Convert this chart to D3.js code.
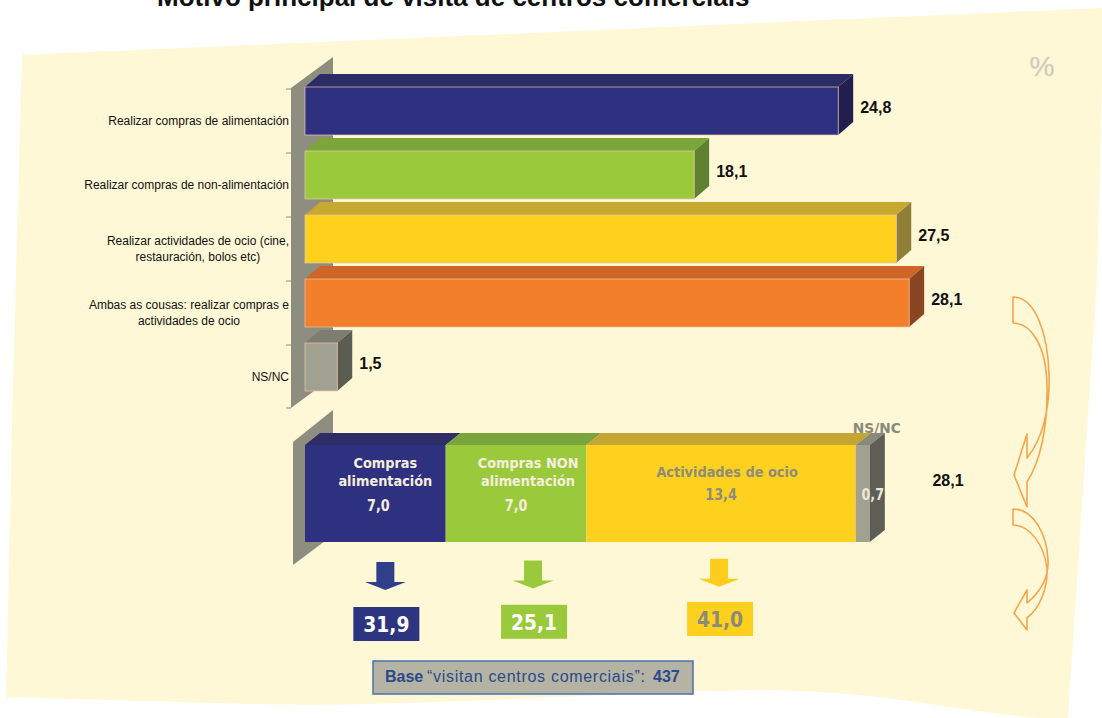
<!DOCTYPE html>
<html>
<head>
<meta charset="utf-8">
<script src="https://cdn.jsdelivr.net/npm/d3@7/dist/d3.min.js"></script>
<style>
  html, body { margin: 0; padding: 0; background: #ffffff; }
  svg { display: block; }
</style>
</head>
<body>
<svg id="chart" width="1102" height="718"></svg>
<script>
// ---- data ----
const title = "Motivo principal de visita de centros comerciais";

const categories = [
  "Realizar compras de alimentación",
  "Realizar compras de non-alimentación",
  "Realizar actividades de ocio (cine, restauración, bolos etc)",
  "Ambas as cousas: realizar compras e actividades de ocio",
  "NS/NC"
];
const categoryLines = [
  ["Realizar compras de alimentación"],
  ["Realizar compras de non-alimentación"],
  ["Realizar actividades de ocio (cine,", "restauración, bolos etc)"],
  ["Ambas as cousas: realizar compras e", "actividades de ocio"],
  ["NS/NC"]
];
const values = [24.8, 18.1, 27.5, 28.1, 1.5];

// breakdown of "Ambas as cousas"
const splitNames = [["Compras", "alimentación"], ["Compras NON", "alimentación"], ["Actividades de ocio"], []];
const splitValues = [7.0, 7.0, 13.4, 0.7];
const splitKeyLabel = "NS/NC";
const splitTotal = 28.1;

// resulting totals per motive
const totals = [31.9, 25.1, 41.0];
const baseLabel = "Base";
const baseText = "\u201cvisitan centros comerciais\u201d:";
const baseCount = 437;

// ---- colours ----
const frontColors = ["#2e3180", "#9aca3c", "#fed11f", "#f47f2a", "#a1a191"];
const topColors   = ["#2d2b63", "#7ba63a", "#c7a831", "#cf6526", "#7d7e71"];
const sideColors  = ["#221f50", "#5f8232", "#8e7e36", "#8b4522", "#5b5c52"];
const splitFront  = ["#2e3180", "#9aca3c", "#fed11f", "#a1a191"];
const splitTop    = ["#2f2d66", "#7aa43c", "#c5a635", "#8a8a7c"];
const splitText   = ["#f6eedc", "#f6eedc", "#8d8b7a", "#ece8d6"];
const totalFill   = ["#2e3580", "#9aca3c", "#fed01e"];
const totalText   = ["#ffffff", "#ffffff", "#8c8a78"];
const arrowFill   = ["#2f3f8a", "#9aca3c", "#fecc1c"];

const fmt = v => d3.format(".1f")(v).replace(".", ",");

const svg = d3.select("#chart");

// narrow bold sans text (horizontally condensed DejaVu)
function narrowText(parent, cx, cy, str, size, sx, fill) {
  return parent.append("text")
    .attr("transform", `translate(${cx},${cy}) scale(${sx},1)`)
    .attr("text-anchor", "middle").attr("dominant-baseline", "central")
    .attr("font-family", "DejaVu Sans, Verdana, sans-serif")
    .attr("font-weight", "bold").attr("font-size", size)
    .attr("fill", fill).text(str);
}

// ---- page background ----
svg.append("path")
  .attr("d", "M22,55 L1104,8 L1097,280 L1068,718 C1000,722 900,690 760,690 C600,692 420,708 250,704 L6,697 L13,380 Z")
  .attr("fill", "#fff8d6");

// title (partly above the visible area)
svg.append("text")
  .attr("x", 157).attr("y", 6)
  .attr("font-family", "Liberation Sans, Arial, sans-serif")
  .attr("font-weight", "bold").attr("font-size", 26)
  .attr("fill", "#111").text(title);

// percent sign
svg.append("text")
  .attr("x", 1042).attr("y", 66)
  .attr("text-anchor", "middle").attr("dominant-baseline", "central")
  .attr("font-family", "Liberation Sans, Arial, sans-serif")
  .attr("font-size", 28).attr("fill", "#cbc9b6")
  .attr("stroke", "#dcdac8").attr("stroke-width", 0.6)
  .text("%");

// ---- top chart: 3D horizontal bars ----
const DX = 15, DY = -13;
const x = d3.scaleLinear().domain([0, 30]).range([305, 950]);
const y = d3.scaleBand().domain(categories).range([79, 399])
  .paddingInner(0.25).paddingOuter(0.125);
const step = y.step();

// side wall
const wallTop = y(categories[0]) + 1;
const wallBot = y(categories[categories.length - 1]) + step + 1;
svg.append("polygon")
  .attr("points", [[291, wallTop], [333, wallTop - 31], [333, wallBot - 31], [291, wallBot]].join(" "))
  .attr("fill", "#8e8e80");

// tick marks on the wall's front edge
const tickYs = categories.map(c => y(c) + 2).concat([wallBot]);
svg.append("g").selectAll("line").data(tickYs).join("line")
  .attr("x1", 286).attr("x2", 291)
  .attr("y1", d => d).attr("y2", d => d)
  .attr("stroke", "#8a8a80").attr("stroke-width", 1);

const bars = svg.append("g");
categories.forEach((c, i) => {
  const x0 = x(0), x1 = x(values[i]), yt = y(c), h = y.bandwidth();
  const g = bars.append("g");
  g.append("polygon")
    .attr("points", [[x0, yt], [x0 + DX, yt + DY], [x1 + DX, yt + DY], [x1, yt]].join(" "))
    .attr("fill", topColors[i]);
  g.append("polygon")
    .attr("points", [[x1, yt], [x1 + DX, yt + DY], [x1 + DX, yt + h + DY], [x1, yt + h]].join(" "))
    .attr("fill", sideColors[i]);
  g.append("rect")
    .attr("x", x0).attr("y", yt).attr("width", x1 - x0).attr("height", h)
    .attr("fill", frontColors[i])
    .attr("stroke", "#ecc6a8").attr("stroke-width", 0.7);
  g.append("text")
    .attr("x", x1 + 22).attr("y", yt + 20)
    .attr("dominant-baseline", "central")
    .attr("font-family", "Liberation Sans, Arial, sans-serif")
    .attr("font-weight", "bold").attr("font-size", 16)
    .attr("fill", "#111").text(fmt(values[i]));
});

// category labels, right aligned against the wall, lines centred on each other
const labelRight = 289;
categoryLines.forEach((lines, i) => {
  const cy = y(categories[i]) + step / 2 + 2;
  const g = svg.append("g");
  const texts = lines.map((ln, k) => g.append("text")
    .attr("y", cy + (k - (lines.length - 1) / 2) * 16)
    .attr("dominant-baseline", "central")
    .attr("text-anchor", "end")
    .attr("font-family", "Liberation Sans, Arial, sans-serif")
    .attr("font-size", 12).attr("fill", "#111")
    .text(ln));
  const widths = texts.map(t => t.node().getComputedTextLength());
  const maxW = d3.max(widths);
  texts.forEach((t, k) => t.attr("x", labelRight - (maxW - widths[k]) / 2));
});

// ---- bottom chart: stacked breakdown of "Ambas" ----
const DX2 = 15, DY2 = -12;
const x2 = d3.scaleLinear().domain([0, 30]).range([305, 908]);
const yb = 445, hb = 97;
const ends = d3.cumsum(splitValues);
const starts = ends.map((e, i) => e - splitValues[i]);

svg.append("polygon")
  .attr("points", [[293, yb - 3], [333, yb - 35], [333, yb + hb - 7], [293, yb + hb + 23]].join(" "))
  .attr("fill", "#8e8e80");

const seg = svg.append("g");
splitValues.forEach((v, i) => {
  const a = x2(starts[i]), b = x2(ends[i]);
  seg.append("polygon")
    .attr("points", [[a, yb], [a + DX2, yb + DY2], [b + DX2, yb + DY2], [b, yb]].join(" "))
    .attr("fill", splitTop[i]);
  seg.append("rect")
    .attr("x", a).attr("y", yb).attr("width", b - a).attr("height", hb)
    .attr("fill", splitFront[i]);
});
{
  const b = x2(splitTotal);
  seg.append("polygon")
    .attr("points", [[b, yb], [b + DX2, yb + DY2], [b + DX2, yb + hb + DY2], [b, yb + hb]].join(" "))
    .attr("fill", "#5d5e55");
}

// segment texts
const nameNudge = [10, 12, 6, 0];
const valueNudge = [3, 0, 0, 10];
const nameTop = [463, 463, 472, 0];
const valueY = [506, 506, 495, 495];
splitValues.forEach((v, i) => {
  const cx = (x2(starts[i]) + x2(ends[i])) / 2;
  splitNames[i].forEach((ln, k) => {
    narrowText(seg, cx + nameNudge[i], nameTop[i] + k * 18, ln, 14.5, 0.89, splitText[i]);
  });
  narrowText(seg, cx + valueNudge[i], valueY[i], fmt(v), 15, 0.85, splitText[i]);
});
// key label above the narrow NS/NC slice
narrowText(seg, x2(splitTotal) + 7, yb - 17, splitKeyLabel, 14.5, 0.95, "#8a8a7b");
// total of the stacked bar
seg.append("text")
  .attr("x", 948).attr("y", 480)
  .attr("text-anchor", "middle").attr("dominant-baseline", "central")
  .attr("font-family", "Liberation Sans, Arial, sans-serif")
  .attr("font-weight", "bold").attr("font-size", 16)
  .attr("fill", "#111").text(fmt(splitTotal));

// ---- down arrows and resulting totals ----
const arrowNudge = [10, 17, -2];
const tilt = -0.01;
const res = svg.append("g");
totals.forEach((t, i) => {
  const cx = (x2(starts[i]) + x2(ends[i])) / 2 + arrowNudge[i];
  const off = (cx - 386) * tilt;
  const ay = 562 + off;
  const p = d3.path();
  p.moveTo(cx - 9, ay); p.lineTo(cx + 9, ay); p.lineTo(cx + 9, ay + 20);
  p.lineTo(cx + 20.5, ay + 20); p.lineTo(cx, ay + 28); p.lineTo(cx - 20.5, ay + 20);
  p.lineTo(cx - 9, ay + 20); p.closePath();
  res.append("path").attr("d", p.toString()).attr("fill", arrowFill[i]);

  const by = 607 + off * 1.5;
  res.append("rect")
    .attr("x", cx - 32).attr("y", by).attr("width", 66).attr("height", 34)
    .attr("fill", totalFill[i]);
  narrowText(res, cx + 1, by + 17.5, fmt(t), 22, 0.85, totalText[i]);
});

// ---- base note ----
const note = svg.append("g");
note.append("rect")
  .attr("x", 373).attr("y", 661).attr("width", 320).attr("height", 33)
  .attr("fill", "#b5b3a3").attr("stroke", "#4d6fae").attr("stroke-width", 1.5);
const nt = note.append("text")
  .attr("y", 682)
  .attr("font-family", "Liberation Sans, Arial, sans-serif")
  .attr("font-size", 16).attr("fill", "#2b4a8b");
nt.append("tspan").attr("x", 385).attr("font-weight", "bold").text(baseLabel);
nt.append("tspan").attr("x", 427).attr("letter-spacing", 0.7).text(baseText);
nt.append("tspan").attr("x", 653).attr("font-weight", "bold").text(baseCount);

// ---- curved connector arrows on the right ----
const curves = [
  "M1013,297 L1013,323 C1031,323 1046,345 1047,385 C1048,428 1040,462 1027,482 L1027,507 L1014,475 L1027,434 L1027,458 C1042,440 1050,410 1049,375 C1048,335 1036,297 1013,297 Z",
  "M1013,509 L1013,525 C1030,525 1044,545 1047,568 C1048,588 1040,608 1027,618 L1027,630 L1014,613 L1027,590 L1027,603 C1040,592 1049,578 1048,560 C1047,535 1034,509 1013,509 Z"
];
svg.append("g").selectAll("path").data(curves).join("path")
  .attr("d", d => d)
  .attr("fill", "none")
  .attr("stroke", "#f6a54b").attr("stroke-width", 1.6)
  .attr("stroke-linejoin", "round");
</script>
</body>
</html>
